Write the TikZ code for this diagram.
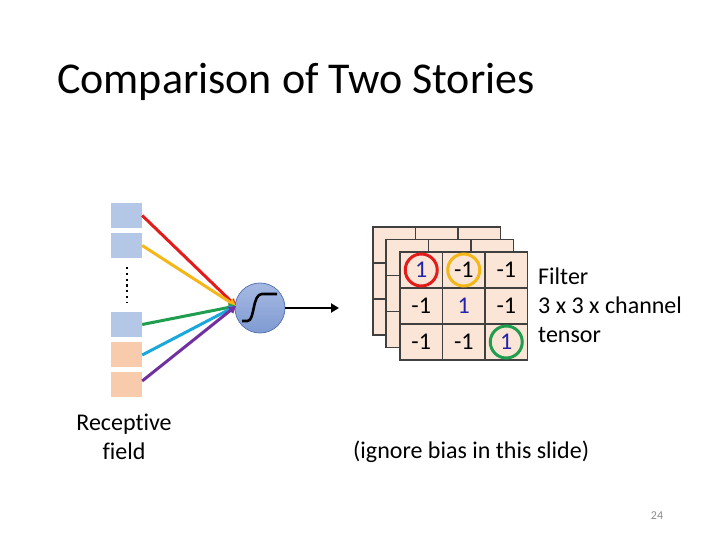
\documentclass[tikz,border=0pt]{standalone}
\usepackage{fontspec}
\setmainfont[Ligatures=NoCommon]{Carlito}
\usetikzlibrary{arrows.meta}
\definecolor{sqblue}{HTML}{B4C7E7}
\definecolor{sqorange}{HTML}{F8CBAD}
\definecolor{cellfill}{HTML}{FBE5D6}
\definecolor{cellline}{HTML}{404040}
\definecolor{ared}{HTML}{E31B1B}
\definecolor{ayellow}{HTML}{F5B617}
\definecolor{agreen}{HTML}{1E9E4E}
\definecolor{ablue}{HTML}{1AA7DC}
\definecolor{apurple}{HTML}{7030A0}
\definecolor{ntop}{HTML}{A6B9E3}
\definecolor{nbot}{HTML}{7F9BD2}
\definecolor{nborder}{HTML}{5A78B4}
\definecolor{onecol}{HTML}{2222AA}
\definecolor{pagegray}{HTML}{8B8B8B}
\tikzset{
  sqb/.style={fill=sqblue, minimum width=31pt, minimum height=25pt, inner sep=0pt},
  sqo/.style={fill=sqorange, minimum width=31pt, minimum height=25pt, inner sep=0pt},
  warr/.style={line width=3pt, -{Triangle[width=8pt,length=7pt]}},
  backcell/.style={fill=cellfill, draw=cellline, line width=1.1pt},
  cell/.style={fill=cellfill, draw=cellline, line width=1.1pt, minimum width=42.5pt, minimum height=36pt, inner sep=0pt, font=\fontsize{24}{28}\selectfont},
  ring/.style={circle, line width=3pt, minimum size=32pt, inner sep=0pt},
  txt/.style={font=\fontsize{24}{28}\selectfont, inner sep=0pt},
}
\begin{document}
\begin{tikzpicture}[x=1pt,y=-1pt]
\useasboundingbox (0,0) rectangle (720,540);
% title
\node[anchor=base west, inner sep=0pt, font=\fontsize{44}{50}\selectfont] (title) at (57,94) {Comparison of Two Stories};
% receptive field squares
\node[sqb] (s1) at (126.5,215.5) {};
\node[sqb] (s2) at (126.5,245.5) {};
\node[sqb] (s3) at (126.5,324.5) {};
\node[sqo] (s4) at (126.5,354.5) {};
\node[sqo] (s5) at (126.5,384.5) {};
\draw[line width=2.6pt, dash pattern=on 2.2pt off 3.6pt] (127,267) -- (127,303);
% neuron
\node[circle, minimum size=50pt, inner sep=0pt, draw=nborder, line width=0.8pt, top color=ntop, bottom color=nbot] (neuron) at (260,308) {};
\draw[line width=2.6pt] (242,321) -- (247.5,321) .. controls (255,321) and (252,294) .. (262,294) -- (277,294);
\coordinate (tip) at (236,306);
\draw[warr, ared] (s1.east) -- (tip);
\draw[warr, ayellow] (s2.east) -- (tip);
\draw[warr, agreen] (s3.east) -- (tip);
\draw[warr, ablue] ([yshift=-0.5pt]s4.east) -- (tip);
\draw[warr, apurple] ([yshift=3.5pt]s5.east) -- (tip);
\coordinate (outend) at (339,308);
\draw[line width=2.6pt, -{Triangle[width=9pt,length=8pt]}] (neuron.east) -- (outend);
% filter layers
\foreach \ox/\oy in {373/227, 386/239.5} {
  \foreach \i in {0,1,2} {
    \foreach \j in {0,1,2} {
      \draw[backcell] (\ox+42.5*\i, \oy+36*\j) rectangle ++(42.5,36);
    }
  }
}
\node[cell, text=onecol] (c11) at (421.25,270) {1};
\node[cell] (c12) at (463.75,270) {-1};
\node[cell] (c13) at (506.25,270) {-1};
\node[cell] (c21) at (421.25,306) {-1};
\node[cell, text=onecol] (c22) at (463.75,306) {1};
\node[cell] (c23) at (506.25,306) {-1};
\node[cell] (c31) at (421.25,342) {-1};
\node[cell] (c32) at (463.75,342) {-1};
\node[cell, text=onecol] (c33) at (506.25,342) {1};
\node[ring, draw=ared] (r1) at (c11) {};
\node[ring, draw=ayellow] (r2) at (c12) {};
\node[ring, draw=agreen] (r3) at (c33) {};
% texts
\node[txt, anchor=base west] (t1) at (538,284) {Filter};
\node[txt, anchor=base west] (t2) at (538,313) {3 x 3 x channel};
\node[txt, anchor=base west] (t3) at (538,342) {tensor};
\node[txt, anchor=base] (rf1) at (124,430) {Receptive};
\node[txt, anchor=base] (rf2) at (124,459) {field};
\node[txt, anchor=base west] (ign) at (353,458) {(ignore bias in this slide)};
\node[anchor=base, inner sep=0pt, font=\fontsize{12}{14}\selectfont, text=pagegray] (pg) at (657,519) {24};
\end{tikzpicture}
\end{document}
